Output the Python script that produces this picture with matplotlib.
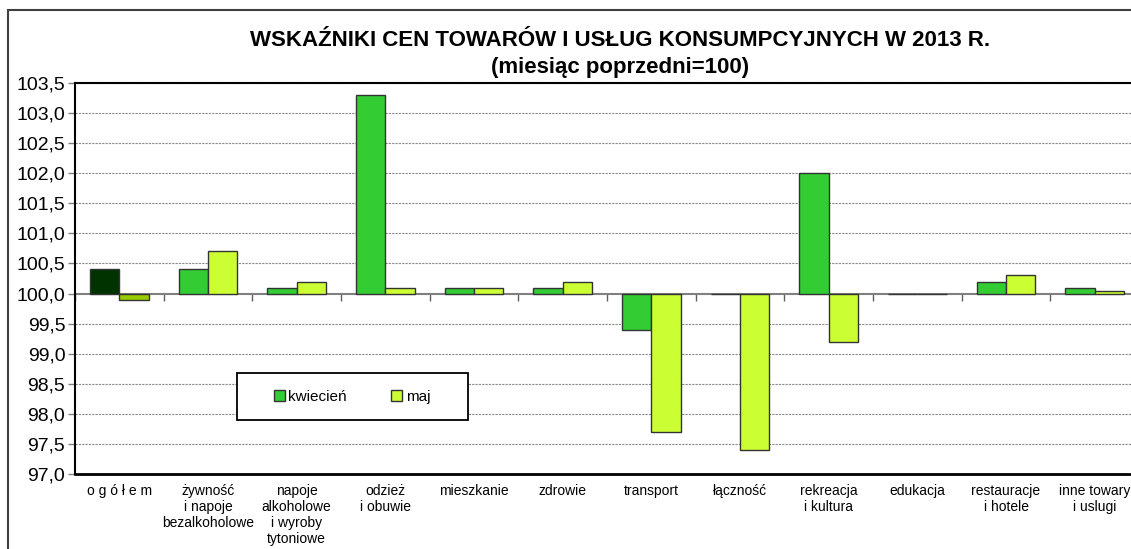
import numpy as np
import matplotlib
matplotlib.use("Agg")
import matplotlib.pyplot as plt
from matplotlib.patches import Patch, Rectangle

plt.rcParams['font.family'] = ['Liberation Sans', 'DejaVu Sans']

# ---- data ----
categories = ['o g ó ł e m', 'żywność\ni napoje\nbezalkoholowe',
              'napoje\nalkoholowe\ni wyroby\ntytoniowe', 'odzież\ni obuwie',
              'mieszkanie', 'zdrowie', 'transport', 'łączność',
              'rekreacja\ni kultura', 'edukacja', 'restauracje\ni hotele',
              'inne towary\ni uslugi']
kwiecien = [100.4, 100.4, 100.1, 103.3, 100.1, 100.1, 99.4, 100.0, 102.0, 100.0, 100.2, 100.1]
maj = [99.9, 100.7, 100.2, 100.1, 100.1, 100.2, 97.7, 97.4, 99.2, 100.0, 100.3, 100.05]
series_names = ['kwiecień', 'maj']
yticks = np.arange(97.0, 103.51, 0.5)

c_kw, c_maj = '#33cc33', '#ccff33'
c_kw0, c_maj0 = '#003300', '#99cc00'   # "ogółem" highlighted

# ---- figure ----
W, H = 1131, 549
fig = plt.figure(figsize=(W / 100, H / 100), dpi=100)
ax = fig.add_axes([75 / W, 75 / H, 1064 / W, 391 / H])

x = np.arange(len(categories))
w = 0.33
base = 100.0
kw_colors = [c_kw0] + [c_kw] * (len(x) - 1)
maj_colors = [c_maj0] + [c_maj] * (len(x) - 1)

ax.bar(x - w / 2, np.array(kwiecien) - base, width=w, bottom=base,
       color=kw_colors, edgecolor='#333333', linewidth=1, zorder=3)
ax.bar(x + w / 2, np.array(maj) - base, width=w, bottom=base,
       color=maj_colors, edgecolor='#333333', linewidth=1, zorder=3)

ax.set_xlim(-0.5, len(x) - 0.5)
ax.set_ylim(97.0, 103.5)

# y axis
ax.set_yticks(yticks)
ax.set_yticklabels([f"{v:.1f}".replace('.', ',') for v in yticks], fontsize=14)
ax.tick_params(axis='y', direction='out', length=5, width=1, color='#808080', pad=2)
for v in yticks:
    if v != base:
        ax.axhline(v, color='#8c8c8c', lw=0.8, ls=(0, (2, 1)), zorder=1)

# x axis line at 100 with boundary ticks
ax.spines['bottom'].set_position(('data', base))
ax.spines['bottom'].set_color('#808080')
ax.spines['bottom'].set_linewidth(1.5)
ax.spines['bottom'].set_zorder(2)
ax.set_xticks(np.arange(len(x) + 1) - 0.5)
ax.set_xticklabels([])
ax.tick_params(axis='x', direction='out', length=5, width=1, color='#606060')

# category labels on the frame bottom
sec = ax.secondary_xaxis(0)
sec.set_xticks(x, labels=categories)
sec.tick_params(length=0, pad=7, labelsize=10)
sec.spines['bottom'].set_color('black')
sec.spines['bottom'].set_linewidth(2)

ax.spines['left'].set_linewidth(1.5)
ax.spines['top'].set_linewidth(1.5)
ax.spines['right'].set_visible(False)

# legend
handles = [Patch(facecolor=c_kw, edgecolor='#333333'),
           Patch(facecolor=c_maj, edgecolor='#333333')]
ax.add_patch(Rectangle((0.152, 0.138), 0.217, 0.12, transform=ax.transAxes,
                       facecolor='white', edgecolor='black', lw=1.3, zorder=4))
leg = ax.legend(handles, series_names, ncol=2, loc='center',
                bbox_to_anchor=(0.2605, 0.198), frameon=False, fontsize=11,
                handlelength=0.7, handleheight=0.7, handletextpad=0.25,
                columnspacing=2.9)
leg.set_zorder(5)

# titles
fig.text(0.548, 1 - 40 / H, 'WSKAŹNIKI CEN TOWARÓW I USŁUG KONSUMPCYJNYCH W 2013 R.',
         ha='center', va='center', fontsize=16, fontweight='bold')
fig.text(0.548, 1 - 68 / H, '(miesiąc poprzedni=100)',
         ha='center', va='center', fontsize=16, fontweight='bold')

# outer chart border
fig.add_artist(Rectangle((8 / W, -0.1), 1.2, 1.1 - 10 / H, transform=fig.transFigure,
                         fill=False, edgecolor='#404040', lw=1.5))

fig.savefig('out.png', dpi=100)
